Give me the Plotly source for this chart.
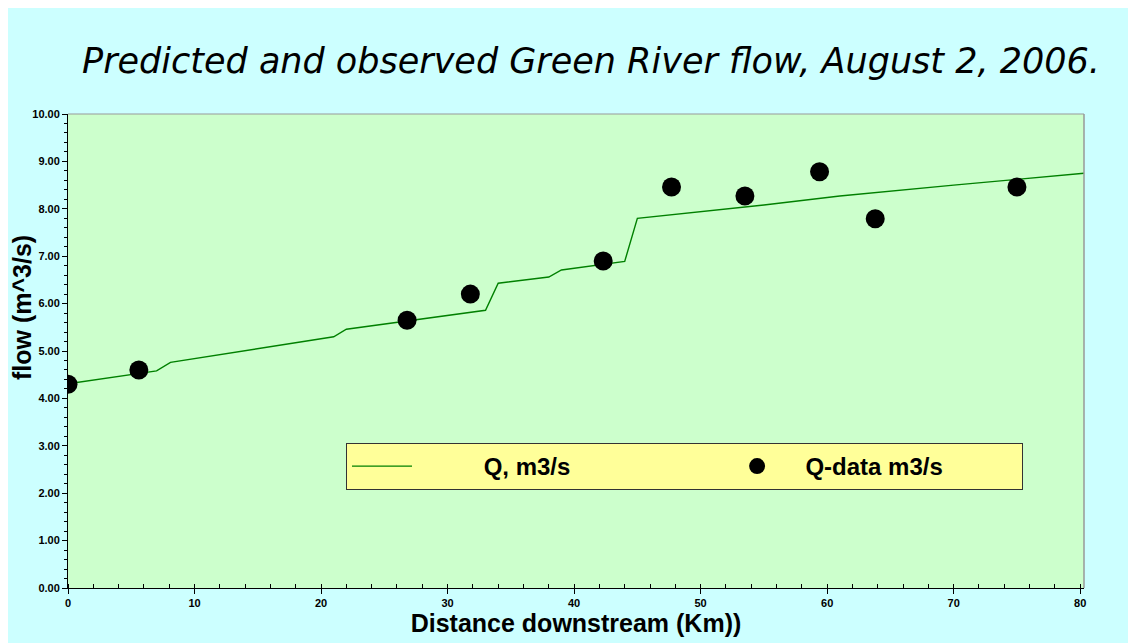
import plotly.graph_objects as go

# Model line (predicted flow)
model_km = [0.0, 7.0, 8.1, 21.0, 22.0, 33.0, 34.0, 38.0, 39.0, 44.0, 45.0, 48.0, 55.0, 61.0, 64.0, 70.0, 75.0, 80.3]
model_q = [4.31, 4.58, 4.76, 5.30, 5.46, 5.86, 6.43, 6.56, 6.71, 6.89, 7.80, 7.88, 8.08, 8.27, 8.35, 8.50, 8.62, 8.75]

# Observed data
obs_km = [0.0, 5.6, 26.8, 31.8, 42.3, 47.7, 53.5, 59.4, 63.8, 75.0]
obs_q = [4.30, 4.60, 5.65, 6.20, 6.90, 8.46, 8.27, 8.78, 7.79, 8.46]

series_names = ["Q, m3/s", "Q-data m3/s"]

# page offset of the figure (browser body margin)
OFF = 8
W, H = 1136 - OFF, 643 - OFF
L, T = 68 - OFF, 114 - OFF
R, B = W - (1084 - OFF), H - (588 - OFF)
pw, ph = W - L - R, H - T - B

NB = "\u00a0"
legend_names = [NB * 10 + series_names[0] + NB * 22, NB * 2 + series_names[1] + NB * 11]

fig = go.Figure()
fig.add_trace(go.Scatter(x=model_km, y=model_q, mode="lines", name=legend_names[0],
                         line=dict(color="#008000", width=1.4)))
fig.add_trace(go.Scatter(x=obs_km, y=obs_q, mode="markers", name=legend_names[1],
                         marker=dict(color="black", size=19)))

sans = "Liberation Sans, Arial"

fig.update_layout(
    width=W, height=H,
    margin=dict(l=L, r=R, t=T, b=B, autoexpand=False),
    paper_bgcolor="#CCFFFF",
    plot_bgcolor="#CCFFCC",
    title=dict(text="Predicted and observed Green River flow, August 2, 2006.",
               x=(591 - OFF) / W, xanchor="center", y=1 - (61 - OFF) / H, yanchor="middle",
               font=dict(family="DejaVu Sans", size=35, style="italic", color="black")),
    xaxis=dict(range=[0, 80.3], dtick=10, tick0=0, showgrid=False, zeroline=False,
               showline=True, linecolor="black", linewidth=1,
               ticks="outside", ticklen=5, tickcolor="black",
               tickfont=dict(family=sans, size=11, color="black", weight="bold"),
               minor=dict(dtick=2, ticks="inside", ticklen=4, tickcolor="black", showgrid=False),
               title=dict(text="Distance downstream (Km))", standoff=2,
                          font=dict(family=sans, size=25, color="black", weight="bold"))),
    yaxis=dict(range=[0, 10], dtick=1, tick0=0, tickformat=".2f", showgrid=False, zeroline=False,
               showline=True, linecolor="black", linewidth=1,
               ticks="outside", ticklen=5, tickcolor="black",
               tickfont=dict(family=sans, size=11, color="black", weight="bold"),
               minor=dict(dtick=0.2, ticks="outside", ticklen=3, tickcolor="black", showgrid=False)),
    legend=dict(orientation="h", x=(346 - 68) / pw, y=(588 - 443) / ph,
                xanchor="left", yanchor="top",
                bgcolor="#FFFF99", bordercolor="#333333", borderwidth=1,
                font=dict(family=sans, size=24, color="black", weight="bold"),
                itemwidth=60),
    showlegend=True,
)

# y-axis title (placed above plot centre as in the original)
fig.add_annotation(text="flow (m^3/s)", xref="paper", yref="paper",
                   x=(22 - 68) / pw, y=(588 - 308) / ph, xanchor="center", yanchor="middle",
                   textangle=-90, showarrow=False,
                   font=dict(family=sans, size=25, color="black", weight="bold"))

# grey plot frame on top/right
fig.add_shape(type="line", xref="paper", yref="paper", x0=0, x1=1, y0=1, y1=1,
              line=dict(color="#999999", width=1))
fig.add_shape(type="line", xref="paper", yref="paper", x0=1, x1=1, y0=0, y1=1,
              line=dict(color="#999999", width=1.5))

fig.write_html("out.html")
